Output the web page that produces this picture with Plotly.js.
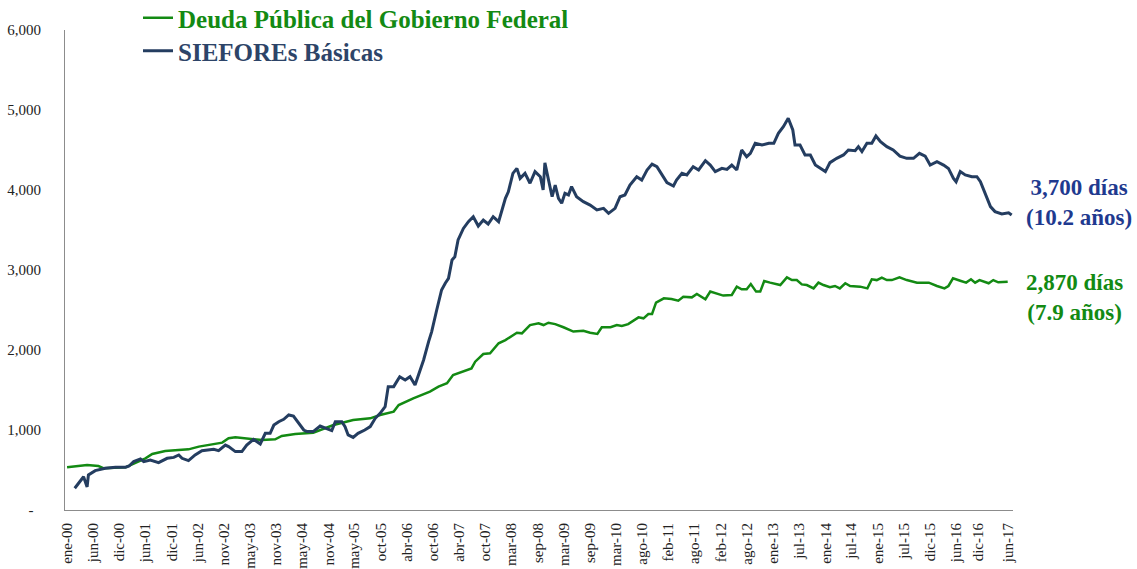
<!DOCTYPE html>
<html>
<head>
<meta charset="utf-8">
<script src="https://cdn.plot.ly/plotly-3.0.1.min.js"></script>
<style>html,body{margin:0;padding:0;background:#fff;}#chart{width:1137px;height:569px;}</style>
</head>
<body>
<div id="chart"></div>
<script>
// ---- Data ----
const seriesNames = ["Deuda Pública del Gobierno Federal", "SIEFOREs Básicas"];

const greenDates = ["2000-01-01","2000-05-16","2000-08-01","2000-09-07","2001-02-01","2001-06-16","2001-08-01","2001-10-28","2002-04-04","2002-06-13","2002-11-19","2003-01-01","2003-02-16","2003-05-16","2003-08-16","2003-11-13","2003-12-28","2004-03-28","2004-06-16","2004-07-28","2004-12-13","2005-04-25","2005-08-19","2005-10-25","2006-01-25","2006-02-28","2006-06-07","2006-09-28","2006-11-25","2007-01-22","2007-03-04","2007-05-13","2007-07-07","2007-08-01","2007-09-25","2007-11-10","2008-01-07","2008-02-22","2008-05-10","2008-06-13","2008-08-07","2008-10-04","2008-11-07","2008-12-10","2009-01-25","2009-03-22","2009-05-28","2009-08-04","2009-09-19","2009-11-07","2009-12-07","2010-02-04","2010-03-19","2010-04-22","2010-06-04","2010-08-13","2010-09-16","2010-10-19","2010-11-13","2010-12-10","2011-02-01","2011-03-25","2011-05-10","2011-06-13","2011-08-10","2011-09-13","2011-11-10","2011-12-13","2012-03-10","2012-05-07","2012-06-10","2012-07-13","2012-08-16","2012-09-13","2012-10-19","2012-11-16","2012-12-13","2013-01-22","2013-04-01","2013-05-16","2013-06-19","2013-07-22","2013-08-25","2013-09-28","2013-11-13","2013-12-16","2014-01-19","2014-03-04","2014-04-07","2014-05-10","2014-06-16","2014-07-19","2014-09-25","2014-11-13","2014-12-13","2015-01-16","2015-02-19","2015-03-25","2015-04-28","2015-06-19","2015-08-07","2015-10-16","2016-01-04","2016-02-28","2016-04-19","2016-05-16","2016-06-16","2016-08-04","2016-09-13","2016-10-16","2016-11-13","2016-12-13","2017-02-13","2017-03-16","2017-04-19","2017-06-22"];
const greenValues = [534,562,550,521,534,646,700,738,758,792,842,896,908,896,875,884,925,950,958,966,1062,1124,1146,1188,1230,1312,1396,1480,1542,1584,1688,1730,1770,1854,1950,1958,2084,2124,2216,2208,2312,2334,2312,2341,2324,2284,2230,2241,2216,2200,2284,2284,2312,2300,2324,2408,2396,2450,2450,2592,2646,2638,2616,2666,2658,2700,2634,2730,2680,2688,2792,2758,2758,2824,2730,2730,2862,2842,2812,2908,2874,2874,2820,2812,2770,2842,2812,2784,2800,2770,2834,2800,2792,2770,2884,2874,2904,2874,2874,2908,2874,2842,2842,2800,2770,2800,2896,2866,2842,2884,2842,2874,2834,2874,2846,2854];

const blueDates = ["2000-02-22","2000-04-22","2000-05-16","2000-05-25","2000-07-10","2000-09-16","2000-11-25","2001-02-01","2001-02-25","2001-03-28","2001-05-13","2001-06-04","2001-07-19","2001-09-13","2001-11-10","2001-12-25","2002-01-28","2002-02-19","2002-04-04","2002-05-19","2002-07-04","2002-08-19","2002-09-22","2002-10-25","2002-12-10","2003-01-01","2003-02-16","2003-04-01","2003-05-04","2003-06-19","2003-08-04","2003-09-07","2003-10-10","2003-11-04","2003-12-07","2004-01-10","2004-02-13","2004-03-16","2004-04-22","2004-05-25","2004-06-16","2004-07-28","2004-09-13","2004-10-28","2004-12-01","2004-12-25","2005-02-07","2005-03-01","2005-03-22","2005-04-25","2005-05-28","2005-07-13","2005-08-19","2005-09-22","2005-10-25","2005-11-28","2005-12-19","2006-01-25","2006-03-07","2006-04-13","2006-05-16","2006-06-19","2006-07-10","2006-08-16","2006-09-19","2006-10-10","2006-11-13","2006-12-16","2007-01-10","2007-02-01","2007-02-25","2007-03-16","2007-04-07","2007-05-13","2007-06-16","2007-07-19","2007-08-22","2007-09-25","2007-10-28","2007-12-01","2008-01-07","2008-01-28","2008-02-22","2008-03-13","2008-04-13","2008-05-10","2008-06-01","2008-07-04","2008-08-07","2008-09-10","2008-10-16","2008-11-04","2008-11-16","2008-12-01","2009-01-04","2009-01-25","2009-02-16","2009-03-10","2009-04-01","2009-04-25","2009-05-16","2009-06-19","2009-08-04","2009-09-19","2009-11-04","2009-12-19","2010-01-22","2010-03-07","2010-04-10","2010-05-13","2010-06-16","2010-08-01","2010-09-04","2010-10-10","2010-11-13","2010-12-16","2011-01-19","2011-02-22","2011-04-07","2011-04-28","2011-06-04","2011-07-07","2011-08-19","2011-09-25","2011-11-10","2011-12-13","2012-01-16","2012-03-01","2012-04-04","2012-05-07","2012-06-10","2012-07-13","2012-08-16","2012-09-10","2012-10-13","2012-11-28","2013-01-13","2013-02-16","2013-03-19","2013-04-22","2013-05-25","2013-06-25","2013-07-10","2013-08-13","2013-09-16","2013-10-22","2013-11-25","2013-12-28","2014-02-01","2014-03-04","2014-04-19","2014-06-04","2014-07-07","2014-08-22","2014-09-13","2014-10-07","2014-11-10","2014-12-13","2015-01-10","2015-02-10","2015-03-25","2015-05-07","2015-06-22","2015-08-07","2015-09-22","2015-11-01","2015-12-10","2016-01-13","2016-02-28","2016-04-13","2016-05-16","2016-06-19","2016-07-07","2016-08-04","2016-09-07","2016-10-22","2016-11-25","2016-12-19","2017-01-22","2017-02-25","2017-03-28","2017-05-13","2017-06-28","2017-07-19"];
const blueValues = [272,416,288,438,492,522,534,534,550,605,638,605,625,592,646,658,688,646,617,688,742,750,758,742,812,792,730,730,812,884,825,958,958,1062,1104,1134,1188,1175,1084,1000,980,980,1050,1021,992,1104,1104,1042,938,908,958,1000,1042,1146,1208,1292,1542,1542,1666,1625,1666,1562,1666,1875,2104,2230,2500,2750,2834,2896,3125,3166,3375,3520,3604,3666,3550,3625,3575,3666,3604,3728,3896,3978,4208,4270,4146,4208,4084,4230,4166,4000,4340,4208,3916,4062,3896,3834,3958,3938,4042,3916,3854,3812,3750,3770,3708,3770,3916,3938,4062,4166,4124,4250,4324,4292,4188,4092,4050,4124,4208,4188,4292,4250,4366,4312,4230,4270,4258,4312,4250,4500,4416,4458,4584,4562,4584,4584,4708,4792,4896,4750,4562,4562,4438,4438,4312,4270,4230,4342,4396,4438,4500,4492,4542,4480,4584,4584,4675,4604,4542,4500,4424,4396,4396,4458,4424,4312,4354,4312,4270,4146,4104,4230,4188,4166,4166,4104,3938,3792,3730,3700,3716,3688];

const xTickDates = ["2000-01-01","2000-06-26","2000-12-21","2001-06-15","2001-12-11","2002-06-05","2002-11-30","2003-05-25","2003-11-20","2004-05-15","2004-11-10","2005-05-05","2005-10-30","2006-04-25","2006-10-20","2007-04-15","2007-10-09","2008-04-04","2008-09-29","2009-03-24","2009-09-19","2010-03-14","2010-09-08","2011-03-03","2011-08-28","2012-02-23","2012-08-18","2013-02-13","2013-08-08","2014-02-03","2014-07-28","2015-01-23","2015-07-17","2016-01-12","2016-07-07","2016-12-02","2017-06-27"];
const xTickLabels = ["ene-00","jun-00","dic-00","jun-01","dic-01","jun-02","nov-02","may-03","nov-03","may-04","nov-04","may-05","oct-05","abr-06","oct-06","abr-07","oct-07","mar-08","sep-08","mar-09","sep-09","mar-10","ago-10","feb-11","ago-11","feb-12","ago-12","ene-13","jul-13","ene-14","jul-14","ene-15","jul-15","dic-15","jun-16","dic-16","jun-17"];

const yTickValues = [0,1000,2000,3000,4000,5000,6000];
const yTickLabels = ["-\u00a0\u00a0","1,000","2,000","3,000","4,000","5,000","6,000"];

const endLabels = [
  {line1: "3,700 días", line2: "(10.2 años)", value: 3700},
  {line1: "2,870 días", line2: "(7.9 años)", value: 2870}
];

// ---- Styles ----
const FONT = "'Liberation Serif', 'Times New Roman', serif";
const GREEN = "#138a13";
const NAVY = "#243d60";
const NAVY_TEXT = "#2d4468";
const ANN_BLUE = "#1f3a8f";

const traces = [
  {x: greenDates, y: greenValues, name: seriesNames[0], type: "scatter", mode: "lines",
   line: {color: GREEN, width: 2.5}, legend: "legend"},
  {x: blueDates, y: blueValues, name: seriesNames[1], type: "scatter", mode: "lines",
   line: {color: NAVY, width: 3}, legend: "legend2"}
];

function legendAt(yPx, color) {
  return {
    xref: "container", yref: "container", x: 138/1137, y: 1 - yPx/569,
    xanchor: "left", yanchor: "middle",
    bgcolor: "rgba(0,0,0,0)", borderwidth: 0,
    font: {family: FONT, size: 25, weight: "bold", color: color},
    itemwidth: 30
  };
}

const layout = {
  width: 1137, height: 569,
  margin: {l: 65, r: 124, t: 30, b: 59, autoexpand: false},
  paper_bgcolor: "#fff", plot_bgcolor: "#fff",
  font: {family: FONT, size: 15, color: "#222"},
  showlegend: true,
  legend: legendAt(18, GREEN),
  legend2: legendAt(51, NAVY_TEXT),
  xaxis: {
    type: "date",
    range: ["1999-12-18", "2017-07-28"],
    tickmode: "array", tickvals: xTickDates, ticktext: xTickLabels,
    tickangle: -90, ticks: "", ticklabelstandoff: 6,
    showgrid: false, zeroline: false,
    showline: true, linecolor: "#8c8c8c", linewidth: 1,
    tickfont: {family: FONT, size: 15, color: "#222"}
  },
  yaxis: {
    range: [0, 6000],
    tickmode: "array", tickvals: yTickValues, ticktext: yTickLabels,
    ticks: "", ticklabelstandoff: 20,
    showgrid: false, zeroline: false,
    showline: true, linecolor: "#8c8c8c", linewidth: 1,
    tickfont: {family: FONT, size: 15, color: "#222"}
  },
  annotations: [
    {xref: "paper", yref: "y", x: 1.012, y: endLabels[0].value, xanchor: "left", yanchor: "middle",
     text: endLabels[0].line1 + "<br>" + endLabels[0].line2, showarrow: false, align: "center",
     yshift: 12,
     font: {family: FONT, size: 23, weight: "bold", color: ANN_BLUE}},
    {xref: "paper", yref: "y", x: 1.012, y: endLabels[1].value, xanchor: "left", yanchor: "middle",
     text: endLabels[1].line1 + "<br>" + endLabels[1].line2, showarrow: false, align: "center",
     yshift: -17,
     font: {family: FONT, size: 23, weight: "bold", color: GREEN}}
  ]
};

Plotly.newPlot("chart", traces, layout, {staticPlot: true, displayModeBar: false});
</script>
</body>
</html>
